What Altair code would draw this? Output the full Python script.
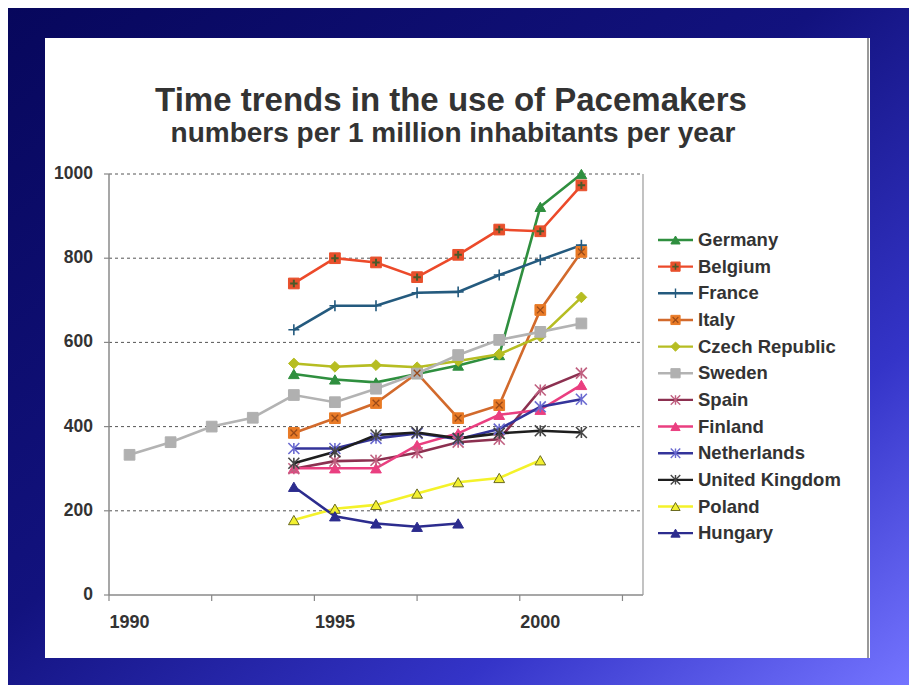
import altair as alt
import pandas as pd

# ---------------- data ----------------
title_text = "Time trends in the use of Pacemakers"
subtitle_text = "numbers per 1 million inhabitants per year"

countries = ["Germany", "Belgium", "France", "Italy", "Czech Republic", "Sweden",
             "Spain", "Finland", "Netherlands", "United Kingdom", "Poland", "Hungary"]

years_sweden = [1990, 1991, 1992, 1993, 1994, 1995, 1996, 1997, 1998, 1999, 2000, 2001]
years_main = [1994, 1995, 1996, 1997, 1998, 1999, 2000, 2001]
years_poland = [1994, 1995, 1996, 1997, 1998, 1999, 2000]
years_hungary = [1994, 1995, 1996, 1997, 1998]

germany = [525, 512, 505, 525, 545, 570, 922, 1000]
belgium = [740, 800, 790, 755, 808, 868, 864, 973]
france = [630, 687, 687, 718, 720, 760, 796, 831]
italy = [385, 420, 456, 527, 420, 451, 677, 815]
czech = [550, 542, 546, 541, 556, 572, 614, 707]
sweden = [333, 363, 400, 421, 475, 458, 490, 526, 570, 606, 625, 645]
spain = [300, 318, 320, 338, 363, 370, 487, 527]
finland = [301, 301, 301, 356, 384, 428, 440, 499]
netherlands = [348, 348, 372, 384, 370, 394, 447, 465]
uk = [313, 340, 380, 386, 372, 384, 390, 386]
poland = [178, 205, 214, 241, 268, 278, 320]
hungary = [257, 187, 170, 162, 170]

y_ticks = [0, 200, 400, 600, 800, 1000]
x_label_years = [1990, 1995, 2000]
x_tick_positions = [1989.5, 1992, 1994.5, 1997, 1999.5, 2002]

# ---------------- styles ----------------
line_colors = ["#2f8f3f", "#ec4a2a", "#245a7e", "#d26a2c", "#b6bd22", "#b3b3b3",
               "#8c3050", "#ea3f80", "#34349a", "#1e1e1e", "#f4f22a", "#2c2c8e"]
marker_fill = ["#2f8f3f", "#e8502c", "#245a7e", "#e87a26", "#b6bd22", "#b0b0b0",
               "#8c3050", "#ea3f80", "#34349a", "#1e1e1e", "#f2f030", "#2c2c8e"]
marker_stroke = ["#2f8f3f", "#e8502c", "#245a7e", "#e87a26", "#b6bd22", "#b0b0b0",
                 "#c06080", "#ea3f80", "#6a6ad0", "#444444", "#6a6a20", "#2c2c8e"]
ASTER = "M-1,-1L1,1M-1,1L1,-1M0,-1L0,1"
PLUS = "M-1,0L1,0M0,-1L0,1"
shapes = ["triangle-up", "square", PLUS, "square", "diamond", "square",
          ASTER, "triangle-up", ASTER, ASTER, "triangle-up", "triangle-up"]
stroked_set = ["France", "Spain", "Netherlands", "United Kingdom"]

W, H = 534, 421
FONT = "Liberation Sans"
TXT = "#333333"

rows = []
def add(name, yrs, vals):
    for yr, v in zip(yrs, vals):
        rows.append({"country": name, "year": yr, "value": v})

add("Germany", years_main, germany)
add("Belgium", years_main, belgium)
add("France", years_main, france)
add("Italy", years_main, italy)
add("Czech Republic", years_main, czech)
add("Sweden", years_sweden, sweden)
add("Spain", years_main, spain)
add("Finland", years_main, finland)
add("Netherlands", years_main, netherlands)
add("United Kingdom", years_main, uk)
add("Poland", years_poland, poland)
add("Hungary", years_hungary, hungary)
df = pd.DataFrame(rows)
df["order"] = df["country"].map({c: i for i, c in enumerate(countries)})

# legend rows: vertical pixel position converted into the value scale
leg = pd.DataFrame({"country": countries})
leg["ly"] = [(H - (66 + i * 26.65)) / H * 1000 for i in range(len(countries))]

xs = alt.Scale(domain=[1989.5, 2002.5], nice=False, zero=False)
ys = alt.Scale(domain=[0, 1000], nice=False)

color_s = alt.Scale(domain=countries, range=line_colors)
fill_s = alt.Scale(domain=countries, range=marker_fill)
stroke_s = alt.Scale(domain=countries, range=marker_stroke)
shape_s = alt.Scale(domain=countries, range=shapes)

one = pd.DataFrame({"a": [0]})

# ---------------- background ----------------
bg = alt.Chart(one).mark_rect(
    fill=alt.Gradient(gradient="linear", x1=0, y1=0, x2=1, y2=1,
                      stops=[alt.GradientStop(color="#07075c", offset=0),
                             alt.GradientStop(color="#12127e", offset=0.45),
                             alt.GradientStop(color="#3434c8", offset=0.75),
                             alt.GradientStop(color="#7474ff", offset=1)])
).encode(x=alt.value(-101), x2=alt.value(800), y=alt.value(-166), y2=alt.value(511))

panel = alt.Chart(one).mark_rect(fill="white").encode(
    x=alt.value(-64), x2=alt.value(761), y=alt.value(-136), y2=alt.value(484))
panel_edge = alt.Chart(one).mark_rule(color="#777777", strokeWidth=1.5).encode(
    x=alt.value(759), y=alt.value(-136), y2=alt.value(484))

# ---------------- titles ----------------
title = alt.Chart(one).mark_text(text=title_text, font=FONT, fontWeight="bold",
                                 fontSize=33, color=TXT, align="center",
                                 baseline="alphabetic").encode(
    x=alt.value(342), y=alt.value(-63))
subtitle = alt.Chart(one).mark_text(text=subtitle_text, font=FONT, fontWeight="bold",
                                    fontSize=28, color=TXT, align="center",
                                    baseline="alphabetic").encode(
    x=alt.value(344), y=alt.value(-32))

# ---------------- axes / grid ----------------
grid_df = pd.DataFrame({"v": [t for t in y_ticks if t > 0]})
grid = alt.Chart(grid_df).mark_rule(color="#555555", strokeWidth=1, strokeDash=[3, 3]).encode(
    y=alt.Y("v:Q", scale=ys, axis=None), x=alt.value(0), x2=alt.value(W))

yt_df = pd.DataFrame({"v": y_ticks})
ytick = alt.Chart(yt_df).mark_rule(color="#888888", strokeWidth=1.2).encode(
    y=alt.Y("v:Q", scale=ys, axis=None), x=alt.value(-5), x2=alt.value(0))
ylab = alt.Chart(yt_df).mark_text(font=FONT, fontWeight="bold", fontSize=17.5, color=TXT,
                                  align="right", baseline="middle").encode(
    y=alt.Y("v:Q", scale=ys, axis=None), x=alt.value(-16), text="v:Q")

xt_df = pd.DataFrame({"t": x_tick_positions})
xtick = alt.Chart(xt_df).mark_rule(color="#888888", strokeWidth=1.2).encode(
    x=alt.X("t:Q", scale=xs, axis=None), y=alt.value(H), y2=alt.value(H + 6))
xl_df = pd.DataFrame({"yr": x_label_years})
xlab = alt.Chart(xl_df).mark_text(font=FONT, fontWeight="bold", fontSize=18, color=TXT,
                                  align="center", baseline="middle").encode(
    x=alt.X("yr:Q", scale=xs, axis=None), y=alt.value(H + 28), text="yr:N")

left_axis = alt.Chart(one).mark_rule(color="#8a8a8a", strokeWidth=1.5).encode(
    x=alt.value(0), y=alt.value(0), y2=alt.value(H))
bottom_axis = alt.Chart(one).mark_rule(color="#8a8a8a", strokeWidth=1.5).encode(
    x=alt.value(0), x2=alt.value(W), y=alt.value(H))
right_edge = alt.Chart(one).mark_rule(color="#9a9a9a", strokeWidth=1.2).encode(
    x=alt.value(W), y=alt.value(0), y2=alt.value(H))

# ---------------- series ----------------
base = alt.Chart(df).encode(
    x=alt.X("year:Q", scale=xs, axis=None),
    y=alt.Y("value:Q", scale=ys, axis=None),
)
lines = base.mark_line(strokeWidth=2.6).encode(
    color=alt.Color("country:N", scale=color_s, legend=None),
    detail="country:N",
    order="year:Q",
)
filled_pts = base.transform_filter(
    ~alt.FieldOneOfPredicate(field="country", oneOf=stroked_set)
).mark_point(filled=True, size=115, strokeWidth=1, opacity=1).encode(
    shape=alt.Shape("country:N", scale=shape_s, legend=None),
    fill=alt.Fill("country:N", scale=fill_s, legend=None),
    stroke=alt.Stroke("country:N", scale=stroke_s, legend=None),
)
stroked_pts = base.transform_filter(
    alt.FieldOneOfPredicate(field="country", oneOf=stroked_set)
).mark_point(filled=False, size=120, strokeWidth=1.6, opacity=1).encode(
    shape=alt.Shape("country:N", scale=shape_s, legend=None),
    stroke=alt.Stroke("country:N", scale=stroke_s, legend=None),
)
bel_cross = base.transform_filter(alt.datum.country == "Belgium").mark_point(
    shape=PLUS, filled=False, size=55, strokeWidth=2, color="#4a5a2a", opacity=1)
ita_x = base.transform_filter(alt.datum.country == "Italy").mark_point(
    shape="M-1,-1L1,1M-1,1L1,-1", filled=False, size=45, strokeWidth=1.3,
    color="#9a4a18", opacity=1)

# ---------------- legend ----------------
lbase = alt.Chart(leg).encode(y=alt.Y("ly:Q", scale=ys, axis=None))
leg_lines = lbase.mark_rule(strokeWidth=2.4).encode(
    x=alt.value(549), x2=alt.value(584),
    color=alt.Color("country:N", scale=color_s, legend=None))
leg_filled = lbase.transform_filter(
    ~alt.FieldOneOfPredicate(field="country", oneOf=stroked_set)
).mark_point(filled=True, size=85, strokeWidth=1, opacity=1).encode(
    x=alt.value(566.5),
    shape=alt.Shape("country:N", scale=shape_s, legend=None),
    fill=alt.Fill("country:N", scale=fill_s, legend=None),
    stroke=alt.Stroke("country:N", scale=stroke_s, legend=None))
leg_stroked = lbase.transform_filter(
    alt.FieldOneOfPredicate(field="country", oneOf=stroked_set)
).mark_point(filled=False, size=90, strokeWidth=1.4, opacity=1).encode(
    x=alt.value(566.5),
    shape=alt.Shape("country:N", scale=shape_s, legend=None),
    stroke=alt.Stroke("country:N", scale=stroke_s, legend=None))
leg_bel = lbase.transform_filter(alt.datum.country == "Belgium").mark_point(
    shape=PLUS, filled=False, size=40, strokeWidth=1.6, color="#4a5a2a", opacity=1
).encode(x=alt.value(566.5))
leg_ita = lbase.transform_filter(alt.datum.country == "Italy").mark_point(
    shape="M-1,-1L1,1M-1,1L1,-1", filled=False, size=32, strokeWidth=1.2,
    color="#9a4a18", opacity=1).encode(x=alt.value(566.5))
leg_text = lbase.mark_text(font=FONT, fontWeight="bold", fontSize=18.5, color=TXT,
                           align="left", baseline="middle").encode(
    x=alt.value(589), text="country:N")

chart = alt.layer(
    bg, panel, panel_edge, title, subtitle,
    grid, left_axis, bottom_axis, right_edge, ytick, ylab, xtick, xlab,
    lines, filled_pts, stroked_pts, bel_cross, ita_x,
    leg_lines, leg_filled, leg_stroked, leg_bel, leg_ita, leg_text,
).properties(
    width=W, height=H,
    padding={"left": 101, "top": 166, "right": 266, "bottom": 90},
    autosize=alt.AutoSizeParams(type="none"),
).configure_view(stroke=None)

chart.save("out.html", embed_options={"renderer": "svg", "actions": False})
